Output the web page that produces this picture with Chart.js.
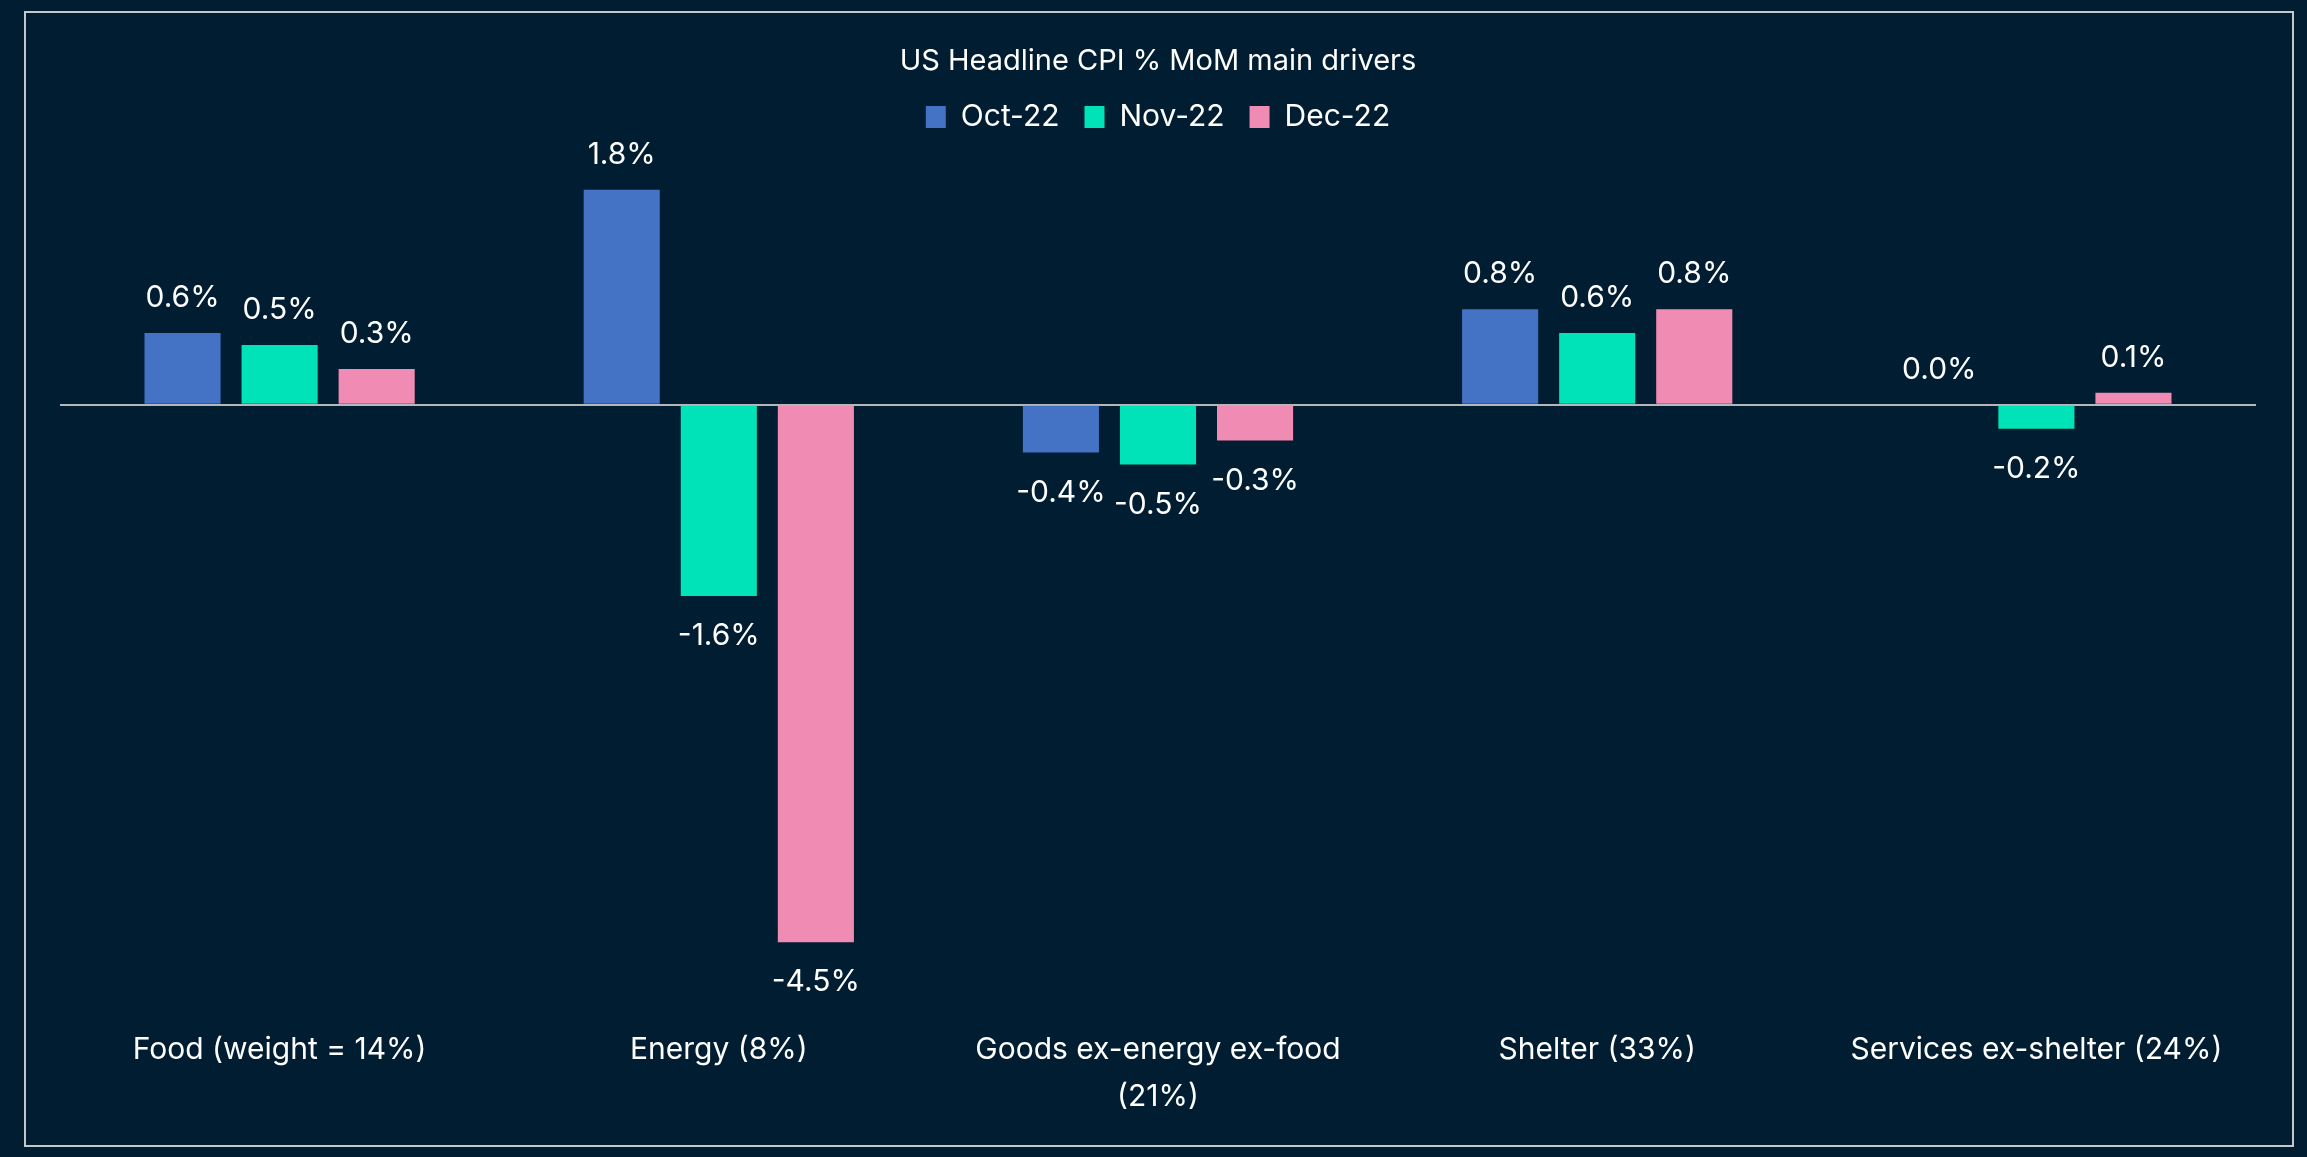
<!DOCTYPE html>
<html>
<head>
<meta charset="utf-8">
<title>US Headline CPI % MoM main drivers</title>
<script src="https://cdn.jsdelivr.net/npm/chart.js@4"></script>
<style>
  html, body { margin: 0; padding: 0; background: #011d32; overflow: hidden; }
  canvas { display: block; }
</style>
</head>
<body>
<canvas id="grafico" width="2307" height="1157"></canvas>
<script>
// Datos
const categorias = [
  'Food (weight = 14%)',
  'Energy (8%)',
  ['Goods ex-energy ex-food', '(21%)'],
  'Shelter (33%)',
  'Services ex-shelter (24%)'
];
const series = ['Oct-22', 'Nov-22', 'Dec-22'];
const valoresOct = [0.6, 1.8, -0.4, 0.8, 0.0];
const valoresNov = [0.5, -1.6, -0.5, 0.6, -0.2];
const valoresDec = [0.3, -4.5, -0.3, 0.8, 0.1];
const colores = ['#4472c4', '#00e3b8', '#f08cb4'];

const FUENTE = "'Inter', 'Noto Sans', sans-serif";

// Fondo y marco exterior
const marco = {
  id: 'marco',
  beforeDraw(chart) {
    const ctx = chart.ctx;
    ctx.save();
    ctx.fillStyle = '#011d32';
    ctx.fillRect(0, 0, chart.width, chart.height);
    ctx.strokeStyle = '#c4c7cb';
    ctx.lineWidth = 2;
    ctx.strokeRect(25, 12, 2268, 1134);
    ctx.restore();
  }
};

// Etiquetas de valor encima / debajo de cada barra
const etiquetas = {
  id: 'etiquetas',
  afterDatasetsDraw(chart) {
    const ctx = chart.ctx;
    ctx.save();
    ctx.font = '30px ' + FUENTE;
    ctx.fillStyle = '#ffffff';
    ctx.textAlign = 'center';
    ctx.textBaseline = 'middle';
    chart.data.datasets.forEach((ds, i) => {
      chart.getDatasetMeta(i).data.forEach((barra, j) => {
        const v = ds.data[j];
        const y = v >= 0 ? barra.y - 35 : barra.y + 40;
        ctx.fillText(v.toFixed(1) + '%', barra.x, y);
      });
    });
    ctx.restore();
  }
};

new Chart(document.getElementById('grafico'), {
  type: 'bar',
  data: {
    labels: categorias,
    datasets: [
      { label: series[0], data: valoresOct, backgroundColor: colores[0] },
      { label: series[1], data: valoresNov, backgroundColor: colores[1] },
      { label: series[2], data: valoresDec, backgroundColor: colores[2] }
    ]
  },
  options: {
    responsive: false,
    devicePixelRatio: 1,
    animation: false,
    categoryPercentage: 0.663,
    barPercentage: 0.784,
    layout: { padding: { left: 60, right: 51, top: 0, bottom: 12 } },
    plugins: {
      tooltip: { enabled: false },
      title: {
        display: true,
        text: 'US Headline CPI % MoM main drivers',
        color: '#ffffff',
        font: { family: FUENTE, size: 29, weight: 'normal', lineHeight: 1.0 },
        padding: { top: 47, bottom: 1 }
      },
      legend: {
        display: true,
        position: 'top',
        labels: {
          color: '#ffffff',
          font: { family: FUENTE, size: 30 },
          boxWidth: 20,
          boxHeight: 22,
          padding: 25
        }
      }
    },
    scales: {
      x: {
        grid: { display: false, drawTicks: false },
        border: { display: false },
        ticks: {
          color: '#ffffff',
          padding: 25,
          maxRotation: 0,
          autoSkip: false,
          font: { family: FUENTE, size: 30, lineHeight: 1.55 }
        }
      },
      y: {
        min: -5,
        max: 2.2,
        border: { display: false },
        grid: {
          drawTicks: false,
          lineWidth: 2,
          color: c => (c.tick && c.tick.value === 0 ? '#b4b8bd' : 'rgba(0,0,0,0)')
        },
        ticks: { display: false, stepSize: 1 }
      }
    }
  },
  plugins: [marco, etiquetas]
});
</script>
</body>
</html>
